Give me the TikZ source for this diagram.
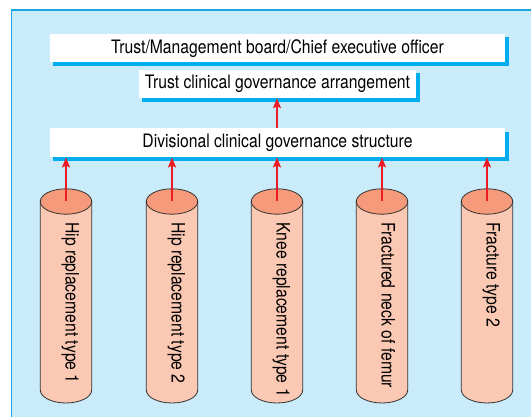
\documentclass[tikz,border=0pt]{standalone}
\usepackage{fontspec}
\setmainfont[FakeStretch=0.85]{TeX Gyre Heros}
\usetikzlibrary{arrows.meta,backgrounds}
\definecolor{bgblue}{HTML}{C9EBFA}
\definecolor{frameblue}{HTML}{1CA7E0}
\definecolor{shadowblue}{HTML}{00AEEF}
\definecolor{cylbodyc}{HTML}{FBC9B3}
\definecolor{cyltopc}{HTML}{F59A7B}
\definecolor{arrred}{HTML}{ED1C24}
\definecolor{outl}{HTML}{333333}
\tikzset{
  govbox/.style={fill=white, inner sep=0pt, text=black,
    font=\fontsize{18.5}{20}\selectfont},
  boxshadow/.style={fill=shadowblue},
  arr/.style={color=arrred, line width=1.9pt, -{Stealth[length=10pt,width=8pt,inset=2pt]}},
  cylbody/.style={fill=cylbodyc, draw=outl, line width=0.8pt},
  cyltop/.style={fill=cyltopc, draw=outl, line width=0.8pt},
  cyltext/.style={rotate=-90, anchor=base west, inner sep=0pt, text=black,
    font=\fontsize{18.5}{20}\selectfont}
}
\begin{document}
\begin{tikzpicture}[x=1pt,y=1pt]
\useasboundingbox (0,0) rectangle (531,416);
\node[govbox, minimum width=455pt, minimum height=28.5pt] (b1) at (277.5,367.75) {Trust/Management board/Chief executive officer};
\node[govbox, minimum width=277pt, minimum height=28pt] (b2) at (277.5,332) {Trust clinical governance arrangement};
\node[govbox, minimum width=455pt, minimum height=29pt] (b3) at (277.5,273.2) {Divisional clinical governance structure};
\coordinate (m) at (277,0);
\begin{pgfonlayer}{background}
  \fill[white] (0,0) rectangle (531,416);
  \draw[fill=bgblue, draw=frameblue, line width=1.5pt] (11.3,406) rectangle (545,-10);
  \foreach \b in {b1,b2,b3}{
    \fill[boxshadow] ([xshift=3.5pt,yshift=-3.5pt]\b.south west) rectangle ([xshift=3.5pt,yshift=-3.5pt]\b.north east);
  }
\end{pgfonlayer}
\foreach \i/\cx/\t in {1/66/Hip replacement type 1, 2/172/Hip replacement type 2, 3/277/Knee replacement type 1, 4/382/Fractured neck of femur, 5/487/Fracture type 2}{
  \filldraw[cylbody] (\cx-25.7,214.5) -- (\cx-25.7,26) arc[start angle=180, end angle=360, x radius=25.7, y radius=13] -- (\cx+25.7,214.5) -- cycle;
  \filldraw[cyltop] (\cx,214.5) ellipse[x radius=25.7, y radius=12.7];
  \coordinate (c\i) at (\cx,215);
  \node[cyltext] (t\i) at (\cx-0.5,194) {\t};
}
\foreach \i in {1,...,5}{
  \draw[arr] (c\i) -- (c\i |- b3.south);
}
\draw[arr] (m |- b3.north) -- (m |- b2.south);
\end{tikzpicture}
\end{document}
